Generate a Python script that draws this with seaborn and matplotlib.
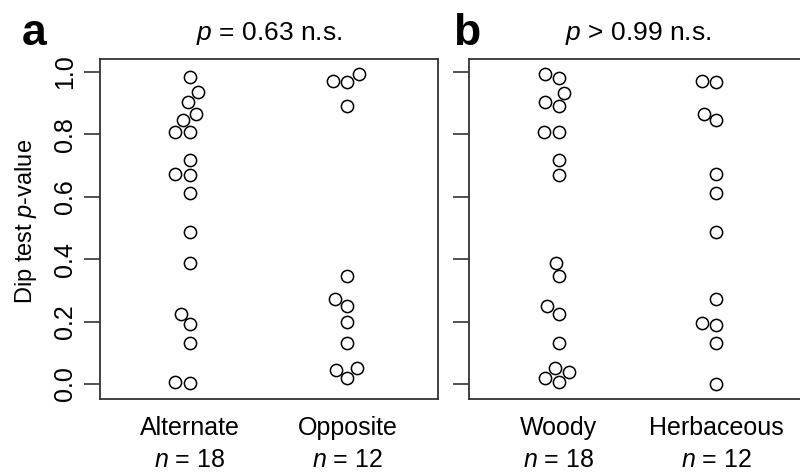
import matplotlib
matplotlib.use("Agg")
import matplotlib.pyplot as plt
import seaborn as sns
import pandas as pd

# ---- data ----
groups_a = ["Alternate", "Opposite"]
groups_b = ["Woody", "Herbaceous"]
n_a = [18, 12]
n_b = [18, 12]
alternate = [0.984, 0.935, 0.903, 0.866, 0.847, 0.808, 0.808, 0.719, 0.670,
             0.672, 0.612, 0.487, 0.388, 0.225, 0.191, 0.131, 0.003, 0.008]
opposite = [0.995, 0.969, 0.971, 0.892, 0.346, 0.274, 0.251, 0.198, 0.131,
            0.051, 0.044, 0.018]
woody = [0.994, 0.981, 0.933, 0.903, 0.892, 0.808, 0.808, 0.718, 0.669,
         0.388, 0.345, 0.251, 0.224, 0.130, 0.051, 0.040, 0.008, 0.018]
herbaceous = [0.969, 0.971, 0.845, 0.866, 0.673, 0.611, 0.488, 0.273, 0.190,
              0.196, 0.131, 0.001]
titles = ["$p$ = 0.63 n.s.", "$p$ > 0.99 n.s."]
panel_letters = ["a", "b"]
yticks = [0.0, 0.2, 0.4, 0.6, 0.8, 1.0]
ylabel = "Dip test $p$-value"

sns.set_style("white")
plt.rcParams["font.family"] = ["Liberation Sans", "DejaVu Sans"]
plt.rcParams["mathtext.fontset"] = "custom"
plt.rcParams["mathtext.rm"] = "Liberation Sans"
plt.rcParams["mathtext.it"] = "Liberation Sans:italic"
plt.rcParams["mathtext.bf"] = "Liberation Sans:bold"
plt.rcParams["text.color"] = "black"
plt.rcParams["axes.labelcolor"] = "black"
plt.rcParams["xtick.labelcolor"] = "black"
plt.rcParams["ytick.labelcolor"] = "black"

df_a = pd.DataFrame({"group": [groups_a[0]] * len(alternate) + [groups_a[1]] * len(opposite),
                     "value": alternate + opposite})
df_b = pd.DataFrame({"group": [groups_b[0]] * len(woody) + [groups_b[1]] * len(herbaceous),
                     "value": woody + herbaceous})

fig = plt.figure(figsize=(8.0, 4.76), dpi=100)
W, H = 800, 476
axw = 338 / W
axh = 340 / H
axb = (H - 399) / H
ax_a = fig.add_axes([100 / W, axb, axw, axh])
ax_b = fig.add_axes([469 / W, axb, axw, axh])

edge = "#333333"
for i, (ax, df, groups, ns) in enumerate([(ax_a, df_a, groups_a, n_a),
                                          (ax_b, df_b, groups_b, n_b)]):
    sns.swarmplot(data=df, x="group", y="value", order=groups, ax=ax,
                  color="white", edgecolor="black", linewidth=1.1, size=8.8)
    ax.set_xlim(-0.57, 1.575)
    ax.set_ylim(-0.048, 1.042)
    ax.set_xticks([0, 1])
    ax.set_xticklabels([f"{g}\n$n$ = {n}" for g, n in zip(groups, ns)],
                       fontsize=18, linespacing=1.45)
    ax.tick_params(axis="x", length=0, pad=12)
    ax.set_yticks(yticks)
    ax.tick_params(axis="y", length=11.5, width=1.2, color=edge, pad=5,
                   labelsize=18, left=True)
    if i == 0:
        ax.set_yticklabels([f"{t:.1f}" for t in yticks])
        for lab in ax.get_yticklabels():
            lab.set_rotation(90)
            lab.set_va("center")
            lab.set_ha("right")
        ax.set_ylabel(ylabel, fontsize=17)
        ax.yaxis.set_label_coords(-0.18, 0.523)
    else:
        ax.set_yticklabels([])
        ax.set_ylabel("")
    ax.set_xlabel("")
    for sp in ax.spines.values():
        sp.set_visible(True)
        sp.set_color(edge)
        sp.set_linewidth(1.3)
    ax.set_title(titles[i], fontsize=19, pad=14)

fig.text(22 / W, (H - 45) / H, panel_letters[0], fontsize=32, fontweight="bold",
         va="baseline", ha="left")
fig.text(453 / W, (H - 45) / H, panel_letters[1], fontsize=32, fontweight="bold",
         va="baseline", ha="left")

fig.savefig("out.png", dpi=100)
